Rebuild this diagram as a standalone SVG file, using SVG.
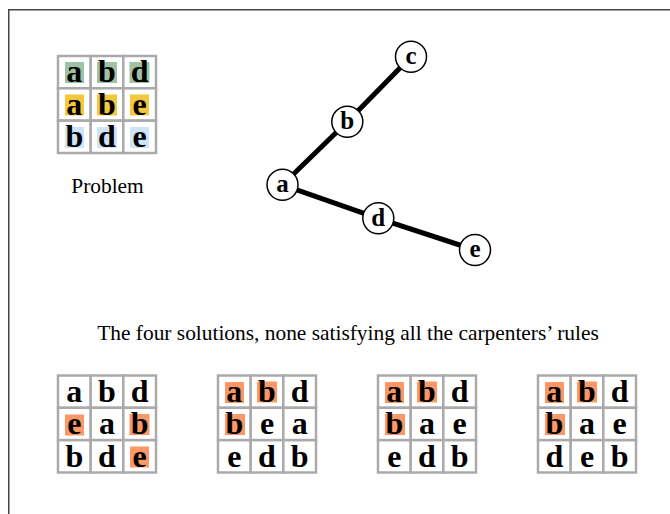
<svg xmlns="http://www.w3.org/2000/svg" width="670" height="514" viewBox="0 0 670 514">
<style>
.bg{fill:#fff}
.frame{fill:none;stroke:#444;stroke-width:1.5}
.cell{fill:#fff;stroke:#aaa;stroke-width:2.5}
.lt{font-family:"Liberation Serif","Times New Roman",serif;font-weight:bold;font-size:32px;text-anchor:middle;fill:#000}
.g{fill:#9fc2a2}.y{fill:#f5c73d}.bl{fill:#cfe4f6}.o{fill:#fc9868}
.node circle{fill:#fff;stroke:#000;stroke-width:1.5}
.node text{font-family:"Liberation Serif","Times New Roman",serif;font-weight:bold;font-size:25px;text-anchor:middle;fill:#000}
.edge{stroke:#000;stroke-width:5;fill:none}
.cap{font-family:"Liberation Serif","Times New Roman",serif;font-size:21.4px;text-anchor:middle;fill:#000}
</style>
<rect class="bg" x="0" y="0" width="670" height="514"/>
<rect class="frame" x="8.75" y="9.75" width="700" height="540"/>

<g id="problem">
<rect class="cell" x="58" y="56" width="32.7" height="32.3"/><rect class="cell" x="90.7" y="56" width="32.7" height="32.3"/><rect class="cell" x="123.3" y="56" width="32.7" height="32.3"/>
<rect class="cell" x="58" y="88.3" width="32.7" height="32.3"/><rect class="cell" x="90.7" y="88.3" width="32.7" height="32.3"/><rect class="cell" x="123.3" y="88.3" width="32.7" height="32.3"/>
<rect class="cell" x="58" y="120.7" width="32.7" height="32.3"/><rect class="cell" x="90.7" y="120.7" width="32.7" height="32.3"/><rect class="cell" x="123.3" y="120.7" width="32.7" height="32.3"/>
<rect class="g" x="65" y="62" width="19" height="21"/><rect class="g" x="97" y="62" width="20" height="21"/><rect class="g" x="129.5" y="62" width="20" height="21"/>
<rect class="y" x="65" y="94.5" width="19" height="21"/><rect class="y" x="97" y="94.5" width="20" height="21"/><rect class="y" x="130" y="94.5" width="19" height="21"/>
<rect class="bl" x="65" y="127" width="19" height="21"/><rect class="bl" x="97" y="127" width="20" height="21"/><rect class="bl" x="130" y="127" width="19" height="21"/>
<text class="lt" x="74.3" y="82">a</text><text class="lt" x="107" y="82">b</text><text class="lt" x="139.7" y="82">d</text>
<text class="lt" x="74.3" y="114.5">a</text><text class="lt" x="107" y="114.5">b</text><text class="lt" x="139.7" y="114.5">e</text>
<text class="lt" x="74.3" y="147">b</text><text class="lt" x="107" y="147">d</text><text class="lt" x="139.7" y="147">e</text>
<text class="cap" x="107.5" y="193.3">Problem</text>
</g>

<g id="edges">
<line class="edge" x1="282.5" y1="184.8" x2="347.3" y2="121.7"/>
<line class="edge" x1="347.3" y1="121.7" x2="411" y2="56.7"/>
<line class="edge" x1="282.5" y1="184.8" x2="378.3" y2="218.3"/>
<line class="edge" x1="378.3" y1="218.3" x2="475" y2="250"/>
</g>
<g id="node-a" class="node"><circle cx="282.5" cy="184.8" r="15.5"/><text x="282.5" y="192">a</text></g>
<g id="node-b" class="node"><circle cx="347.3" cy="121.7" r="15.5"/><text x="347.3" y="129">b</text></g>
<g id="node-c" class="node"><circle cx="411" cy="56.7" r="15.5"/><text x="411" y="64">c</text></g>
<g id="node-d" class="node"><circle cx="378.3" cy="218.3" r="15.5"/><text x="378.3" y="225.5">d</text></g>
<g id="node-e" class="node"><circle cx="475" cy="250" r="15.5"/><text x="475" y="257">e</text></g>

<text class="cap" x="348" y="339.5">The four solutions, none satisfying all the carpenters’ rules</text>

<g id="sol1">
<rect class="cell" x="58" y="375.5" width="32.7" height="32.3"/><rect class="cell" x="90.7" y="375.5" width="32.7" height="32.3"/><rect class="cell" x="123.3" y="375.5" width="32.7" height="32.3"/>
<rect class="cell" x="58" y="407.8" width="32.7" height="32.3"/><rect class="cell" x="90.7" y="407.8" width="32.7" height="32.3"/><rect class="cell" x="123.3" y="407.8" width="32.7" height="32.3"/>
<rect class="cell" x="58" y="440.2" width="32.7" height="32.3"/><rect class="cell" x="90.7" y="440.2" width="32.7" height="32.3"/><rect class="cell" x="123.3" y="440.2" width="32.7" height="32.3"/>
<rect class="o" x="65" y="414.5" width="19" height="21"/><rect class="o" x="129.5" y="414" width="20" height="21"/><rect class="o" x="130" y="446.5" width="19" height="21"/>
<text class="lt" x="74.3" y="401.5">a</text><text class="lt" x="107" y="401.5">b</text><text class="lt" x="139.7" y="401.5">d</text>
<text class="lt" x="74.3" y="434">e</text><text class="lt" x="107" y="434">a</text><text class="lt" x="139.7" y="434">b</text>
<text class="lt" x="74.3" y="466.5">b</text><text class="lt" x="107" y="466.5">d</text><text class="lt" x="139.7" y="466.5">e</text>
</g>

<g id="sol2">
<rect class="cell" x="218" y="375.5" width="32.7" height="32.3"/><rect class="cell" x="250.7" y="375.5" width="32.7" height="32.3"/><rect class="cell" x="283.3" y="375.5" width="32.7" height="32.3"/>
<rect class="cell" x="218" y="407.8" width="32.7" height="32.3"/><rect class="cell" x="250.7" y="407.8" width="32.7" height="32.3"/><rect class="cell" x="283.3" y="407.8" width="32.7" height="32.3"/>
<rect class="cell" x="218" y="440.2" width="32.7" height="32.3"/><rect class="cell" x="250.7" y="440.2" width="32.7" height="32.3"/><rect class="cell" x="283.3" y="440.2" width="32.7" height="32.3"/>
<rect class="o" x="225" y="382" width="19" height="21"/><rect class="o" x="257" y="381.5" width="20" height="21"/><rect class="o" x="225" y="414" width="20" height="21"/>
<text class="lt" x="234.3" y="401.5">a</text><text class="lt" x="267" y="401.5">b</text><text class="lt" x="299.7" y="401.5">d</text>
<text class="lt" x="234.3" y="434">b</text><text class="lt" x="267" y="434">e</text><text class="lt" x="299.7" y="434">a</text>
<text class="lt" x="234.3" y="466.5">e</text><text class="lt" x="267" y="466.5">d</text><text class="lt" x="299.7" y="466.5">b</text>
</g>

<g id="sol3">
<rect class="cell" x="378" y="375.5" width="32.7" height="32.3"/><rect class="cell" x="410.7" y="375.5" width="32.7" height="32.3"/><rect class="cell" x="443.3" y="375.5" width="32.7" height="32.3"/>
<rect class="cell" x="378" y="407.8" width="32.7" height="32.3"/><rect class="cell" x="410.7" y="407.8" width="32.7" height="32.3"/><rect class="cell" x="443.3" y="407.8" width="32.7" height="32.3"/>
<rect class="cell" x="378" y="440.2" width="32.7" height="32.3"/><rect class="cell" x="410.7" y="440.2" width="32.7" height="32.3"/><rect class="cell" x="443.3" y="440.2" width="32.7" height="32.3"/>
<rect class="o" x="385" y="382" width="19" height="21"/><rect class="o" x="417" y="381.5" width="20" height="21"/><rect class="o" x="385" y="414" width="20" height="21"/>
<text class="lt" x="394.3" y="401.5">a</text><text class="lt" x="427" y="401.5">b</text><text class="lt" x="459.7" y="401.5">d</text>
<text class="lt" x="394.3" y="434">b</text><text class="lt" x="427" y="434">a</text><text class="lt" x="459.7" y="434">e</text>
<text class="lt" x="394.3" y="466.5">e</text><text class="lt" x="427" y="466.5">d</text><text class="lt" x="459.7" y="466.5">b</text>
</g>

<g id="sol4">
<rect class="cell" x="538" y="375.5" width="32.7" height="32.3"/><rect class="cell" x="570.7" y="375.5" width="32.7" height="32.3"/><rect class="cell" x="603.3" y="375.5" width="32.7" height="32.3"/>
<rect class="cell" x="538" y="407.8" width="32.7" height="32.3"/><rect class="cell" x="570.7" y="407.8" width="32.7" height="32.3"/><rect class="cell" x="603.3" y="407.8" width="32.7" height="32.3"/>
<rect class="cell" x="538" y="440.2" width="32.7" height="32.3"/><rect class="cell" x="570.7" y="440.2" width="32.7" height="32.3"/><rect class="cell" x="603.3" y="440.2" width="32.7" height="32.3"/>
<rect class="o" x="545" y="382" width="19" height="21"/><rect class="o" x="577" y="381.5" width="20" height="21"/><rect class="o" x="545" y="414" width="20" height="21"/>
<text class="lt" x="554.3" y="401.5">a</text><text class="lt" x="587" y="401.5">b</text><text class="lt" x="619.7" y="401.5">d</text>
<text class="lt" x="554.3" y="434">b</text><text class="lt" x="587" y="434">a</text><text class="lt" x="619.7" y="434">e</text>
<text class="lt" x="554.3" y="466.5">d</text><text class="lt" x="587" y="466.5">e</text><text class="lt" x="619.7" y="466.5">b</text>
</g>
</svg>
